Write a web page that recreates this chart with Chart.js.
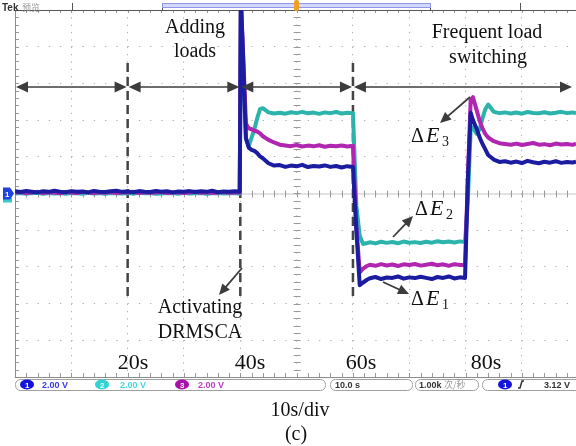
<!DOCTYPE html>
<html>
<head>
<meta charset="utf-8">
<script src="https://cdn.jsdelivr.net/npm/chart.js@4"></script>
<style>
  html, body { margin: 0; padding: 0; background: #fff; }
  #wrap { width: 576px; height: 446px; }
</style>
</head>
<body>
<div id="wrap"><canvas id="scope" width="576" height="446"></canvas></div>
<script>
// sample times (s), shared by the three channels
const time = [
  0, 1, 2, 3, 4, 5, 6, 7, 8, 9,
  10, 11, 12, 13, 14, 15, 16, 17, 18, 19,
  20, 21, 22, 23, 24, 25, 26, 27, 28, 29,
  30, 31, 32, 33, 34, 35, 36, 37, 38, 39,
  39.9, 40.1, 40.5, 41, 41.5, 42, 42.5, 43, 43.5, 44,
  45, 46, 47, 48, 49, 50, 51, 52, 53, 54,
  55, 56, 57, 58, 59, 60, 60.6, 61.2, 61.8, 62.5,
  63, 64, 65, 66, 67, 68, 69, 70, 71, 72,
  73, 74, 75, 76, 77, 78, 79, 79.9, 80.4, 80.9,
  81.3, 82, 82.5, 83, 83.5, 84, 85, 86, 87, 88,
  89, 90, 91, 92, 93, 94, 95, 96, 97, 98,
  99, 99.6
];

// channel 1 (V)
const ch1 = [
  0.12, 0.08, 0.14, 0.10, 0.06, 0.12, 0.09, 0.15, 0.10, 0.07,
  0.13, 0.09, 0.11, 0.06, 0.14, 0.10, 0.08, 0.12, 0.15, 0.09,
  0.11, 0.07, 0.13, 0.10, 0.08, 0.14, 0.09, 0.12, 0.06, 0.11,
  0.10, 0.13, 0.08, 0.12, 0.09, 0.15, 0.07, 0.11, 0.10, 0.12,
  0.10, 10.6, 7.4, 3.0, 2.5, 2.38, 2.32, 2.2, 2.02, 1.92,
  1.65, 1.52, 1.55, 1.45, 1.52, 1.48, 1.56, 1.44, 1.5, 1.47,
  1.53, 1.45, 1.5, 1.42, 1.49, 1.45, -2.0, -5.0, -4.85, -4.7,
  -4.62, -4.55, -4.66, -4.58, -4.6, -4.52, -4.64, -4.57, -4.61, -4.54,
  -4.6, -4.66, -4.55, -4.6, -4.52, -4.63, -4.57, -4.6, 0.7, 4.4,
  4.0, 3.5, 3.05, 2.7, 2.4, 2.1, 1.85, 1.72, 1.76, 1.68,
  1.74, 1.66, 1.78, 1.7, 1.65, 1.73, 1.68, 1.76, 1.67, 1.72,
  1.69, 1.73
];

// channel 2 (V)
const ch2 = [
  0.0, 0.03, -0.02, 0.02, 0.04, -0.01, 0.03, 0.0, 0.02, -0.02,
  0.03, 0.01, -0.01, 0.04, 0.0, 0.02, -0.02, 0.03, 0.01, 0.0,
  0.02, -0.01, 0.04, 0.01, 0.03, -0.02, 0.0, 0.03, 0.02, -0.01,
  0.04, 0.0, 0.02, 0.03, -0.02, 0.01, 0.03, 0.0, 0.02, 0.01,
  0.0, 10.6, 7.0, 3.0, 2.6, 3.05, 3.5, 4.1, 4.6, 4.65,
  4.42, 4.36, 4.4, 4.35, 4.43, 4.38, 4.45, 4.37, 4.41, 4.34,
  4.42, 4.38, 4.44, 4.36, 4.4, 4.37, -0.65, -2.3, -2.75, -2.7,
  -2.66, -2.72, -2.63, -2.69, -2.64, -2.71, -2.62, -2.68, -2.65, -2.7,
  -2.63, -2.68, -2.6, -2.66, -2.62, -2.67, -2.61, -2.65, -0.4, 3.5,
  3.6, 3.25, 3.5, 4.1, 4.6, 4.85, 4.45, 4.38, 4.42, 4.36,
  4.41, 4.35, 4.44, 4.39, 4.37, 4.43, 4.36, 4.4, 4.45, 4.38,
  4.42, 4.37
];

// channel 3 (V)
const ch3 = [
  0.04, 0.08, 0.02, 0.06, 0.09, 0.03, 0.07, 0.05, 0.01, 0.08,
  0.06, 0.03, 0.09, 0.05, 0.02, 0.07, 0.04, 0.08, 0.03, 0.06,
  0.05, 0.09, 0.02, 0.07, 0.04, 0.06, 0.08, 0.03, 0.05, 0.07,
  0.02, 0.06, 0.09, 0.04, 0.07, 0.03, 0.05, 0.08, 0.04, 0.06,
  0.05, 10.6, 7.6, 3.8, 3.55, 3.5, 3.42, 3.38, 3.28, 3.12,
  2.92, 2.78, 2.66, 2.62, 2.58, 2.64, 2.56, 2.61, 2.57, 2.63,
  2.55, 2.6, 2.58, 2.62, 2.56, 2.6, -1.75, -4.3, -4.1, -3.95,
  -3.88, -3.94, -3.85, -3.92, -3.87, -3.95, -3.86, -3.9, -3.84, -3.93,
  -3.88, -3.83, -3.91, -3.86, -3.94, -3.85, -3.9, -3.9, 0.9, 5.1,
  5.25, 4.5, 3.95, 3.55, 3.25, 3.05, 2.85, 2.74, 2.7, 2.66,
  2.72, 2.64, 2.7, 2.75, 2.66, 2.69, 2.63, 2.72, 2.67, 2.7,
  2.65, 2.71
];

const timeLabels = ['20s', '40s', '60s', '80s'];
const labelTimes = [20, 40, 60, 80];
const markerTimes = [20, 40, 60];

const toPoints = arr => time.map((t, i) => ({ x: t, y: arr[i] }));

function arrowHead(c, x1, y1, x2, y2, len, half) {
  const a = Math.atan2(y2 - y1, x2 - x1);
  c.beginPath();
  c.moveTo(x2, y2);
  c.lineTo(x2 - len * Math.cos(a) + half * Math.sin(a), y2 - len * Math.sin(a) - half * Math.cos(a));
  c.lineTo(x2 - len * Math.cos(a) - half * Math.sin(a), y2 - len * Math.sin(a) + half * Math.cos(a));
  c.closePath();
  c.fill();
}

function arrow(c, x1, y1, x2, y2, len, half) {
  const a = Math.atan2(y2 - y1, x2 - x1);
  c.beginPath();
  c.moveTo(x1, y1);
  c.lineTo(x2 - (len - 2) * Math.cos(a), y2 - (len - 2) * Math.sin(a));
  c.stroke();
  arrowHead(c, x1, y1, x2, y2, len, half);
}

function deltaLabel(c, x, y, sub) {
  c.font = '20px "Liberation Serif"';
  c.fillText('\u0394', x, y);
  c.font = 'italic 22px "Liberation Serif"';
  c.fillText('E', x + 15, y);
  c.font = '14px "Liberation Serif"';
  c.fillText(sub, x + 31, y + 4);
}

const scopeDecor = {
  id: 'scopeDecor',
  beforeDatasetsDraw(chart) {
    const { ctx: c, chartArea: a, scales: { x, y } } = chart;
    const x0 = x.getPixelForValue(50);
    const y0 = y.getPixelForValue(0);
    c.save();
    // centre cross
    c.strokeStyle = '#c4c4c4';
    c.lineWidth = 1;
    c.beginPath();
    c.moveTo(a.left, y0 + 0.5); c.lineTo(a.right, y0 + 0.5);
    c.stroke();
    c.strokeStyle = '#9a9a9a';
    c.beginPath();
    for (let t = 0; t <= 100; t += 2) {
      const px = Math.round(x.getPixelForValue(t)) + 0.5;
      c.moveTo(px, y0 - 3); c.lineTo(px, y0 + 4);
      c.moveTo(px, a.bottom); c.lineTo(px, a.bottom - 4);
      c.moveTo(px, a.top); c.lineTo(px, a.top + 3);
    }
    for (let v = -10; v <= 10.01; v += 0.4) {
      const py = Math.round(y.getPixelForValue(v)) + 0.5;
      c.moveTo(x0 - 3, py); c.lineTo(x0 + 4, py);
      c.moveTo(a.left, py); c.lineTo(a.left + 4, py);
    }
    c.stroke();
    // frame edges
    c.strokeStyle = '#8c8c8c';
    c.beginPath();
    c.moveTo(a.left + 0.5, a.top); c.lineTo(a.left + 0.5, a.bottom);
    c.moveTo(a.left, a.bottom + 0.5); c.lineTo(a.right, a.bottom + 0.5);
    c.stroke();
    c.strokeStyle = '#555';
    c.beginPath();
    c.moveTo(a.left, a.top + 0.5); c.lineTo(a.right, a.top + 0.5);
    c.stroke();

    // dashed event markers
    c.strokeStyle = '#444';
    c.lineWidth = 2.5;
    c.setLineDash([9, 5]);
    markerTimes.forEach(t => {
      const px = x.getPixelForValue(t);
      c.beginPath();
      c.moveTo(px, 63); c.lineTo(px, 301);
      c.stroke();
    });
    c.restore();
  },
  afterDraw(chart) {
    const { ctx: c, chartArea: a, scales: { x, y } } = chart;
    c.save();

    // header strip
    c.font = 'bold 10px "Liberation Sans"';
    c.fillStyle = '#333';
    c.fillText('Tek', 2, 11);
    c.font = '9px "Noto Sans CJK SC"';
    c.fillStyle = '#999';
    c.fillText('预览', 22, 11);
    c.strokeStyle = '#555';
    c.lineWidth = 1;
    c.beginPath();
    [72, 162, 430, 520].forEach(px => { c.moveTo(px + 0.5, 3); c.lineTo(px + 0.5, 10); });
    c.stroke();
    c.fillStyle = '#d4d8fb';
    c.fillRect(162, 3, 268, 5);
    c.strokeStyle = '#8f98e8';
    c.strokeRect(162.5, 3.5, 268, 4);
    c.fillStyle = '#f0a020';
    c.beginPath();
    c.roundRect(294, 0, 5, 11, 2);
    c.fill();

    // channel 1 ground marker
    const y0 = y.getPixelForValue(0);
    c.fillStyle = '#38c8c8';
    c.fillRect(3, y0 + 4, 9, 5);
    c.fillStyle = '#2040e0';
    c.beginPath();
    c.moveTo(3, y0 - 6); c.lineTo(10, y0 - 6); c.lineTo(14, y0);
    c.lineTo(10, y0 + 6); c.lineTo(3, y0 + 6); c.closePath();
    c.fill();
    c.fillStyle = '#fff';
    c.font = 'bold 8px "Liberation Sans"';
    c.fillText('1', 5, y0 + 3);

    // interval arrows
    c.strokeStyle = '#3c3c3c';
    c.fillStyle = '#3c3c3c';
    c.lineWidth = 1.6;
    const ay = 87;
    const ends = [0, 20, 40, 60].map(t => x.getPixelForValue(t));
    ends.push(573);
    for (let i = 0; i < ends.length - 1; i++) {
      const l = ends[i] + 1, r = ends[i + 1] - 1;
      c.beginPath();
      c.moveTo(l + 8, ay); c.lineTo(r - 8, ay);
      c.stroke();
      arrowHead(c, r, ay, l, ay, 12, 5.5);
      arrowHead(c, l, ay, r, ay, 12, 5.5);
    }

    // pointer arrows
    c.lineWidth = 1.8;
    arrow(c, 242, 268, 219, 295, 11, 5);
    arrow(c, 470, 97, 440, 123, 11, 5);
    arrow(c, 393, 237, 413, 216, 11, 5);
    arrow(c, 383, 282, 409, 294, 11, 5);

    // annotation text
    c.fillStyle = '#111';
    c.textAlign = 'center';
    c.font = '20px "Liberation Serif"';
    c.fillText('Adding', 195, 33);
    c.fillText('loads', 195, 57);
    c.fillText('Frequent load', 487, 38);
    c.fillText('switching', 488, 63);
    c.fillText('Activating', 200, 313);
    c.fillText('DRMSCA', 200, 338);
    c.font = '22px "Liberation Serif"';
    const labelX = [133, 250, 361, 486];
    timeLabels.forEach((s, i) => c.fillText(s, labelX[i], 369));
    c.font = '20px "Liberation Serif"';
    c.fillText('10s/div', 300, 416);
    c.fillText('(c)', 296, 440);
    c.textAlign = 'left';
    deltaLabel(c, 411, 142, '3');
    deltaLabel(c, 415, 215, '2');
    deltaLabel(c, 411, 305, '1');

    // status bar
    const sy = 379, sh = 11;
    c.strokeStyle = '#a0a0a0';
    c.lineWidth = 1;
    [[15, 310], [330, 82], [415, 63], [482, 100]].forEach(([bx, bw]) => {
      c.beginPath();
      c.roundRect(bx + 0.5, sy + 0.5, bw, sh, 5);
      c.stroke();
    });
    const chans = [
      { cx: 27, fill: '#1414d8', text: '#3a3ae8', tx: 42, n: '1' },
      { cx: 102, fill: '#30d4d4', text: '#48d8d8', tx: 120, n: '2' },
      { cx: 182, fill: '#aa10aa', text: '#c03cc0', tx: 198, n: '3' }
    ];
    chans.forEach(ch => {
      c.fillStyle = ch.fill;
      c.beginPath();
      c.ellipse(ch.cx, sy + 5.5, 7, 5, 0, 0, Math.PI * 2);
      c.fill();
      c.fillStyle = '#fff';
      c.font = 'bold 8px "Liberation Sans"';
      c.fillText(ch.n, ch.cx - 2, sy + 9);
      c.fillStyle = ch.text;
      c.font = 'bold 9px "Liberation Sans"';
      c.fillText('2.00 V', ch.tx, sy + 9);
    });
    c.fillStyle = '#333';
    c.font = 'bold 9px "Liberation Sans"';
    c.fillText('10.0 s', 335, sy + 9);
    c.fillText('1.00k', 419, sy + 9);
    c.fillStyle = '#999';
    c.font = '9px "Noto Sans CJK SC"';
    c.fillText('次/秒', 444, sy + 9);
    c.fillStyle = '#1414d8';
    c.beginPath();
    c.ellipse(505, sy + 5.5, 7, 5, 0, 0, Math.PI * 2);
    c.fill();
    c.fillStyle = '#fff';
    c.font = 'bold 8px "Liberation Sans"';
    c.fillText('1', 503, sy + 9);
    c.strokeStyle = '#333';
    c.lineWidth = 1.5;
    c.beginPath();
    c.moveTo(518, sy + 9); c.lineTo(520, sy + 9); c.lineTo(522, sy + 2); c.lineTo(524, sy + 2);
    c.stroke();
    c.fillStyle = '#333';
    c.font = 'bold 9px "Liberation Sans"';
    c.fillText('3.12 V', 544, sy + 9);
    c.restore();
  }
};

const ctx = document.getElementById('scope');

new Chart(ctx, {
  type: 'line',
  data: {
    datasets: [
      { label: 'CH1', data: toPoints(ch1), borderColor: '#1c1ca0', borderWidth: 4 },
      { label: 'CH3', data: toPoints(ch3), borderColor: '#b026b0', borderWidth: 4 },
      { label: 'CH2', data: toPoints(ch2), borderColor: '#2cb4ac', borderWidth: 4 }
    ]
  },
  options: {
    responsive: false,
    animation: false,
    parsing: true,
    elements: {
      point: { radius: 0 },
      line: { tension: 0, borderJoinStyle: 'round' }
    },
    layout: {
      padding: { left: 15, top: 10, right: 0, bottom: 69 }
    },
    scales: {
      x: {
        type: 'linear',
        min: 0,
        max: 99.6,
        ticks: { display: false, stepSize: 10 },
        grid: { color: '#b0b0b0', drawTicks: false, lineWidth: 1 },
        border: { display: false, dash: [1.3, 6.04] }
      },
      y: {
        min: -10,
        max: 10,
        ticks: { display: false, stepSize: 2 },
        grid: { color: '#b0b0b0', drawTicks: false, lineWidth: 1 },
        border: { display: false, dash: [1.3, 9.96] }
      }
    },
    plugins: {
      legend: { display: false },
      tooltip: { enabled: false }
    }
  },
  plugins: [scopeDecor]
});
</script>
</body>
</html>
